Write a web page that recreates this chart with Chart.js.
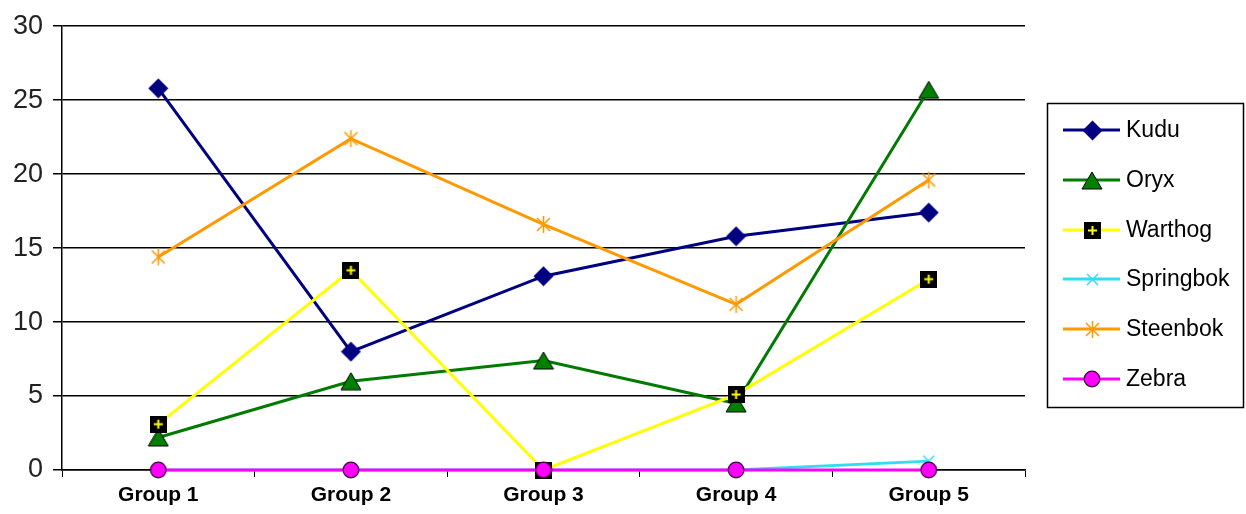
<!DOCTYPE html>
<html>
<head>
<meta charset="utf-8">
<script src="https://cdn.jsdelivr.net/npm/chart.js@4/dist/chart.umd.min.js"></script>
<style>
  html, body { margin: 0; padding: 0; background: #fff; }
  #wrap { width: 1246px; height: 514px; position: relative; }
</style>
</head>
<body>
<div id="wrap"><canvas id="c" width="1246" height="514"></canvas></div>
<script>
// Categories and series values
const groups = ['Group 1', 'Group 2', 'Group 3', 'Group 4', 'Group 5'];
const kudu      = [25.8, 8.0, 13.1, 15.8, 17.4];
const oryx      = [2.2, 6.0, 7.4, 4.5, 25.7];
const warthog   = [3.1, 13.5, 0, 5.1, 12.9];
const springbok = [0, 0, 0, 0, 0.6];
const steenbok  = [14.4, 22.4, 16.6, 11.2, 19.6];
const zebra     = [0, 0, 0, 0, 0];
const seriesNames = ['Kudu', 'Oryx', 'Warthog', 'Springbok', 'Steenbok', 'Zebra'];
const yTicks = [0, 5, 10, 15, 20, 25, 30];

// Marker glyphs drawn onto small canvases
function makeMarker(w, h, draw) {
  const c = document.createElement('canvas');
  c.width = w; c.height = h;
  const g = c.getContext('2d');
  draw(g, w, h);
  return c;
}
const mkDiamond = makeMarker(21, 21, (g, w, h) => {
  g.fillStyle = '#000080';
  g.beginPath(); g.moveTo(w/2, 0.5); g.lineTo(w-0.5, h/2); g.lineTo(w/2, h-0.5); g.lineTo(0.5, h/2); g.closePath(); g.fill();
});
const mkTriangle = makeMarker(22, 19, (g, w, h) => {
  g.fillStyle = '#008000'; g.strokeStyle = '#000'; g.lineWidth = 1;
  g.beginPath(); g.moveTo(w/2, 1); g.lineTo(w-1, h-1); g.lineTo(1, h-1); g.closePath(); g.fill(); g.stroke();
});
const mkSquarePlus = makeMarker(17, 17, (g, w, h) => {
  g.fillStyle = '#000'; g.fillRect(0, 0, w, h);
  g.strokeStyle = '#FFFF00'; g.lineWidth = 2;
  g.beginPath(); g.moveTo(w/2, 4); g.lineTo(w/2, h-4); g.moveTo(4, h/2); g.lineTo(w-4, h/2); g.stroke();
});
const mkCross = makeMarker(15, 15, (g, w, h) => {
  g.strokeStyle = '#33DDF0'; g.lineWidth = 1.5;
  g.beginPath(); g.moveTo(2, 2); g.lineTo(w-2, h-2); g.moveTo(w-2, 2); g.lineTo(2, h-2); g.stroke();
});
const mkStar = makeMarker(19, 19, (g, w, h) => {
  g.strokeStyle = '#FF9900'; g.lineWidth = 1.5;
  g.beginPath();
  g.moveTo(3, 3); g.lineTo(w-3, h-3);
  g.moveTo(w-3, 3); g.lineTo(3, h-3);
  g.moveTo(w/2, 1); g.lineTo(w/2, h-1);
  g.stroke();
});
const mkCircle = makeMarker(18, 18, (g, w, h) => {
  g.fillStyle = '#FF00FF'; g.strokeStyle = '#3a003a'; g.lineWidth = 1.2;
  g.beginPath(); g.arc(w/2, h/2, 7.8, 0, Math.PI*2); g.fill(); g.stroke();
});

const lineColors = ['#000080', '#007A00', '#FFFF00', '#33DDF0', '#FF9900', '#FF00FF'];
const markers = [mkDiamond, mkTriangle, mkSquarePlus, mkCross, mkStar, mkCircle];
const values = [kudu, oryx, warthog, springbok, steenbok, zebra];

const datasets = seriesNames.map((name, i) => ({
  label: name,
  data: values[i],
  borderColor: lineColors[i],
  backgroundColor: lineColors[i],
  borderWidth: 3,
  pointStyle: markers[i],
  tension: 0,
  fill: false,
  clip: false,
  order: -i   // later series are painted over earlier ones
}));

// Boxed legend with line + marker samples
const boxLegend = {
  id: 'boxLegend',
  afterDraw(chart) {
    const ctx = chart.ctx;
    ctx.save();
    ctx.strokeStyle = '#000'; ctx.lineWidth = 1.5;
    ctx.strokeRect(1047.5, 103.5, 196, 304);
    const rows = [130, 180, 230, 279, 329, 379];
    ctx.font = '23px "Liberation Sans", Arial, sans-serif';
    ctx.textBaseline = 'middle';
    chart.data.datasets.forEach((ds, i) => {
      const y = rows[i];
      ctx.strokeStyle = ds.borderColor; ctx.lineWidth = 3;
      ctx.beginPath(); ctx.moveTo(1063, y); ctx.lineTo(1120, y); ctx.stroke();
      const m = ds.pointStyle;
      ctx.drawImage(m, Math.round(1092 - m.width/2), Math.round(y - m.height/2));
      ctx.fillStyle = '#000';
      ctx.fillText(ds.label, 1126, y + 1);
    });
    ctx.restore();
  }
};

new Chart(document.getElementById('c'), {
  type: 'line',
  data: { labels: groups, datasets },
  options: {
    responsive: false,
    animation: false,
    events: [],
    layout: { padding: { top: 26, right: 221, left: 0, bottom: 0 } },
    plugins: { legend: { display: false }, tooltip: { enabled: false } },
    elements: { point: { radius: 9 } },
    scales: {
      x: {
        offset: true,
        grid: { offset: true, drawOnChartArea: false, drawTicks: true, tickLength: 7, color: '#000', lineWidth: 1 },
        border: { display: true, color: '#000', width: 1.5 },
        ticks: {
          color: '#000', padding: 6,
          font: { family: '"Liberation Sans", Arial, sans-serif', size: 21, weight: 'bold' }
        },
        afterFit(s) { s.height = 44; }
      },
      y: {
        min: 0, max: 30,
        afterBuildTicks(s) { s.ticks = yTicks.map(v => ({ value: v })); },
        grid: { color: '#000', lineWidth: 1.5, tickLength: 9, drawTicks: true },
        border: { display: true, color: '#000', width: 1.5 },
        ticks: {
          color: '#222', padding: 10,
          font: { family: '"Liberation Sans", Arial, sans-serif', size: 27 }
        },
        afterFit(s) { s.width = 62; }
      }
    }
  },
  plugins: [boxLegend]
});
</script>
</body>
</html>
